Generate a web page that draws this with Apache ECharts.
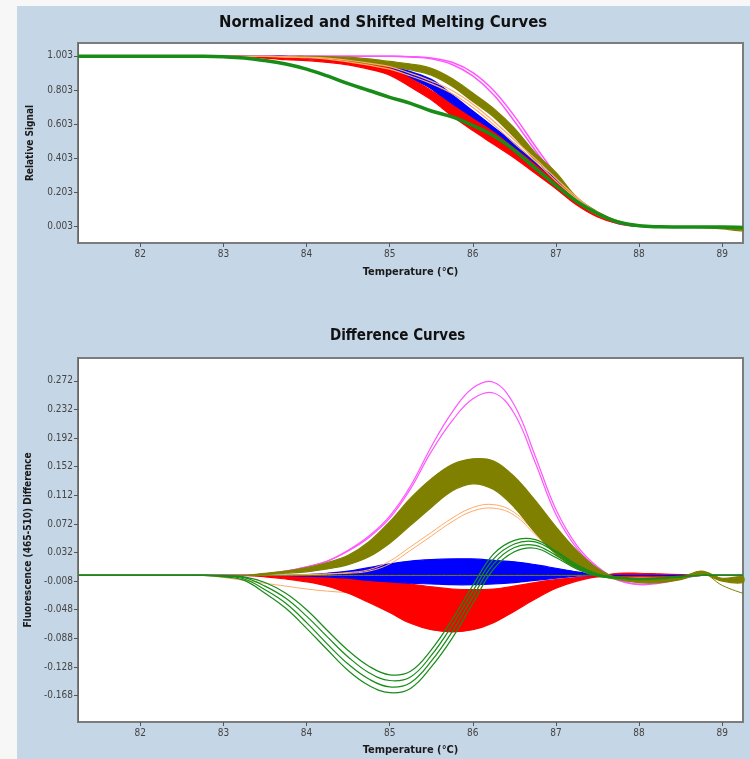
<!DOCTYPE html>
<html>
<head>
<meta charset="utf-8">
<script src="https://cdn.jsdelivr.net/npm/echarts@6/dist/echarts.min.js"></script>
<style>
html, body { margin: 0; padding: 0; background: #f7f7f7; }
#bg { position: absolute; left: 17px; top: 6px; width: 733px; height: 753px; background: #c5d6e6; }
#chart { position: absolute; left: 0; top: 0; width: 750px; height: 759px; }
</style>
</head>
<body>
<div id="bg"></div>
<div id="chart"></div>
<script>
// temperature grid (°C)
var temps = [81.25, 81.5, 81.75, 82, 82.25, 82.5, 82.75, 83, 83.25, 83.5, 83.75, 84, 84.25, 84.5, 84.75, 85, 85.25,
  85.5, 85.75, 86, 86.25, 86.5, 86.75, 87, 87.25, 87.5, 87.75, 88, 88.25, 88.5, 88.75, 89, 89.25];
var xTicks = [82, 83, 84, 85, 86, 87, 88, 89];
var meltTicks = [0.003, 0.203, 0.403, 0.603, 0.803, 1.003];
var diffTicks = [-0.168, -0.128, -0.088, -0.048, -0.008, 0.032, 0.072, 0.112, 0.152, 0.192, 0.232, 0.272];

// normalized melting curves (upper chart)
var meltGreen = [1, 1, 1, 1, 1, 1, 1, 0.997, 0.99, 0.975, 0.955, 0.925, 0.885, 0.84, 0.8, 0.76, 0.725, 0.68, 0.645, 0.595, 0.535, 0.45, 0.345, 0.245, 0.15, 0.08, 0.03, 0.008, 0.002, 0.001, 0, 0, -0.002];
var meltRedHi = [1, 1, 1, 1, 1, 1, 1, 1, 1, 0.995, 0.99, 0.985, 0.98, 0.97, 0.955, 0.93, 0.87, 0.8, 0.715, 0.635, 0.555, 0.46, 0.365, 0.265, 0.16, 0.08, 0.03, 0.008, 0.003, 0, 0, 0, 0];
var meltRedLo = [1, 1, 1, 1, 1, 1, 1, 1, 1, 0.99, 0.98, 0.975, 0.965, 0.95, 0.925, 0.89, 0.82, 0.745, 0.65, 0.565, 0.485, 0.405, 0.315, 0.225, 0.13, 0.06, 0.02, 0.005, 0.001, 0, 0, 0, 0];
var meltBlueHi = [1, 1, 1, 1, 1, 1, 1, 1, 1, 1, 1, 0.995, 0.99, 0.98, 0.965, 0.945, 0.91, 0.865, 0.775, 0.68, 0.585, 0.49, 0.38, 0.28, 0.17, 0.085, 0.03, 0.008, 0.002, 0, 0, 0, 0];
var meltBlueLo = [1, 1, 1, 1, 1, 1, 1, 1, 1, 1, 1, 0.99, 0.98, 0.965, 0.945, 0.915, 0.87, 0.81, 0.705, 0.62, 0.525, 0.43, 0.33, 0.235, 0.14, 0.07, 0.025, 0.006, 0.001, 0, 0, 0, 0];
var meltOrangeA = [1, 1, 1, 1, 1, 1, 1, 1, 1, 1, 0.998, 0.995, 0.99, 0.977, 0.96, 0.94, 0.9, 0.855, 0.8, 0.72, 0.62, 0.51, 0.4, 0.285, 0.175, 0.085, 0.03, 0.008, 0.002, 0, 0, 0, 0];
var meltOrangeB = [1, 1, 1, 1, 1, 1, 1, 1, 1, 1, 0.997, 0.992, 0.984, 0.968, 0.948, 0.925, 0.885, 0.84, 0.782, 0.7, 0.6, 0.49, 0.385, 0.27, 0.165, 0.08, 0.028, 0.007, 0.002, 0, 0, 0, 0];
var meltOliveHi = [1, 1, 1, 1, 1, 1, 1, 1, 1, 1, 1, 1, 0.998, 0.995, 0.985, 0.97, 0.955, 0.93, 0.87, 0.785, 0.695, 0.58, 0.435, 0.32, 0.175, 0.09, 0.035, 0.01, 0.003, 0.001, 0, -0.004, -0.012];
var meltOliveLo = [1, 1, 1, 1, 1, 1, 1, 1, 1, 1, 1, 1, 0.99, 0.975, 0.955, 0.94, 0.92, 0.89, 0.825, 0.735, 0.645, 0.525, 0.395, 0.29, 0.15, 0.07, 0.025, 0.005, 0.001, 0, -0.003, -0.01, -0.022];
var meltMagentaA = [1, 1, 1, 1, 1, 1, 1, 1, 1, 1, 1, 1, 1, 1, 1, 1, 0.998, 0.99, 0.965, 0.905, 0.8, 0.65, 0.475, 0.31, 0.17, 0.075, 0.022, 0.006, 0.001, 0, 0, 0, 0];
var meltMagentaB = [1, 1, 1, 1, 1, 1, 1, 1, 1, 1, 1, 1, 1, 1, 1, 1, 0.996, 0.985, 0.952, 0.885, 0.775, 0.62, 0.45, 0.29, 0.155, 0.068, 0.02, 0.005, 0.001, 0, 0, 0, 0];

// difference curves (lower chart)
var diffMagentaA = [0, 0, 0, 0, 0, 0, 0, 0, 0, 0.002, 0.006, 0.012, 0.02, 0.035, 0.055, 0.083, 0.125, 0.18, 0.228, 0.262, 0.27, 0.238, 0.167, 0.092, 0.042, 0.012, -0.006, -0.012, -0.01, -0.004, 0, 0, 0];
var diffMagentaB = [0, 0, 0, 0, 0, 0, 0, 0, 0, 0.002, 0.006, 0.012, 0.02, 0.034, 0.053, 0.08, 0.121, 0.173, 0.216, 0.247, 0.255, 0.226, 0.158, 0.085, 0.038, 0.01, -0.007, -0.013, -0.011, -0.005, 0, 0, 0];
var diffOliveHi = [0, 0, 0, 0, 0, 0, 0, 0, 0, 0.003, 0.006, 0.011, 0.018, 0.028, 0.047, 0.075, 0.108, 0.135, 0.155, 0.163, 0.16, 0.138, 0.105, 0.068, 0.035, 0.01, -0.004, -0.006, -0.006, -0.003, 0.006, -0.004, -0.002];
var diffOliveLo = [0, 0, 0, 0, 0, 0, 0, 0, 0, 0.001, 0.003, 0.005, 0.009, 0.015, 0.026, 0.045, 0.07, 0.095, 0.118, 0.128, 0.12, 0.095, 0.06, 0.03, 0.01, 0, -0.006, -0.01, -0.01, -0.006, 0.002, -0.008, -0.01];
var diffOliveDip = [0, 0, 0, 0, 0, 0, 0, 0, 0, 0, 0, 0, 0, 0, 0, 0, 0, 0, 0, 0, 0, 0, 0, 0, 0, 0, -0.004, -0.006, -0.006, -0.003, 0.004, -0.014, -0.025];
var diffOrangeA = [0, 0, 0, 0, 0, 0, 0, 0, 0, 0, 0, 0.001, 0.002, 0.004, 0.008, 0.02, 0.04, 0.06, 0.08, 0.095, 0.099, 0.088, 0.06, 0.032, 0.01, 0, -0.004, -0.005, -0.004, -0.002, 0, 0, 0];
var diffOrangeB = [0, 0, 0, 0, 0, 0, 0, 0, 0, 0, 0, 0.001, 0.002, 0.003, 0.006, 0.016, 0.035, 0.055, 0.075, 0.09, 0.094, 0.084, 0.057, 0.03, 0.009, 0, -0.004, -0.005, -0.004, -0.002, 0, 0, 0];
var diffOrangeC = [0, 0, 0, 0, 0, 0, 0, -0.003, -0.007, -0.011, -0.015, -0.019, -0.022, -0.024, -0.025, -0.026, -0.027, -0.027, -0.026, -0.024, -0.02, -0.015, -0.01, -0.006, -0.003, -0.001, 0, 0, 0, 0, 0, 0, 0];
var diffBlueHi = [0, 0, 0, 0, 0, 0, 0, 0, 0, 0, 0, 0.001, 0.003, 0.006, 0.011, 0.016, 0.02, 0.022, 0.023, 0.023, 0.021, 0.019, 0.015, 0.01, 0.005, 0.001, 0, 0, 0, 0, 0, 0, 0];
var diffBlueLo = [0, 0, 0, 0, 0, 0, 0, 0, 0, 0, 0, -0.001, -0.002, -0.004, -0.007, -0.009, -0.011, -0.012, -0.013, -0.013, -0.012, -0.01, -0.007, -0.004, -0.001, 0, 0, 0, 0, 0, 0, 0, 0];
var diffRedHi = [0, 0, 0, 0, 0, 0, 0, 0, 0, 0, -0.001, -0.002, -0.003, -0.004, -0.006, -0.008, -0.012, -0.016, -0.019, -0.02, -0.019, -0.015, -0.01, -0.006, -0.003, -0.001, 0.003, 0.003, 0.002, 0.001, 0, 0, 0];
var diffRedLo = [0, 0, 0, 0, 0, 0, 0, 0, 0, -0.002, -0.005, -0.009, -0.015, -0.025, -0.038, -0.052, -0.067, -0.076, -0.079, -0.076, -0.066, -0.05, -0.033, -0.018, -0.008, -0.002, -0.002, -0.002, -0.002, -0.001, 0, 0, 0];
var diffGreenA = [0, 0, 0, 0, 0, 0, 0, 0, -0.002, -0.01, -0.025, -0.048, -0.077, -0.105, -0.127, -0.139, -0.134, -0.104, -0.062, -0.014, 0.03, 0.049, 0.05, 0.034, 0.015, 0.002, -0.002, -0.004, -0.003, -0.001, 0, 0, 0];
var diffGreenB = [0, 0, 0, 0, 0, 0, 0, -0.001, -0.003, -0.015, -0.032, -0.057, -0.086, -0.114, -0.136, -0.147, -0.142, -0.112, -0.07, -0.022, 0.023, 0.044, 0.047, 0.032, 0.013, 0.001, -0.003, -0.005, -0.004, -0.002, 0, 0, 0];
var diffGreenC = [0, 0, 0, 0, 0, 0, 0, -0.001, -0.005, -0.02, -0.039, -0.066, -0.096, -0.124, -0.145, -0.156, -0.15, -0.12, -0.079, -0.03, 0.016, 0.039, 0.042, 0.028, 0.011, 0, -0.003, -0.005, -0.004, -0.002, 0, 0, 0];
var diffGreenD = [0, 0, 0, 0, 0, 0, 0, -0.002, -0.007, -0.025, -0.046, -0.074, -0.104, -0.133, -0.154, -0.164, -0.158, -0.128, -0.088, -0.039, 0.009, 0.033, 0.038, 0.025, 0.009, -0.001, -0.004, -0.006, -0.005, -0.002, 0, 0, 0];

var FONT = '"DejaVu Sans Condensed", "DejaVu Sans", sans-serif';
var RED = '#ff0000', BLUE = '#0000ff', OLIVE = '#808000', ORANGE = '#ffaa66', MAGENTA = '#ff55ff', GREEN = '#178c17';

// one smooth curve, drawn through the grid's own axes
function curve(g, ys, color, width) {
  return {
    type: 'custom', coordinateSystem: 'cartesian2d', xAxisIndex: g, yAxisIndex: g,
    silent: true, data: [[temps[0], ys[0]]],
    renderItem: function (params, api) {
      var pts = temps.map(function (t, i) { return api.coord([t, ys[i]]); });
      return {
        type: 'polyline',
        shape: { points: pts, smooth: 0.4 },
        style: { stroke: color, lineWidth: width, fill: null }
      };
    }
  };
}

// filled band of many overlapping curves, between lo and hi
function band(g, lo, hi, color) {
  return {
    type: 'custom', coordinateSystem: 'cartesian2d', xAxisIndex: g, yAxisIndex: g,
    silent: true, data: [[temps[0], lo[0]]],
    renderItem: function (params, api) {
      var pts = [];
      for (var i = 0; i < temps.length; i++) pts.push(api.coord([temps[i], hi[i]]));
      for (var j = temps.length - 1; j >= 0; j--) pts.push(api.coord([temps[j], lo[j]]));
      return {
        type: 'polygon',
        shape: { points: pts, smooth: 0.35 },
        style: { fill: color, stroke: color, lineWidth: 1.2 }
      };
    }
  };
}

function xAxis(g, gap) {
  return {
    type: 'value', gridIndex: g, min: 81.25, max: 89.25,
    axisLine: { show: false, onZero: false },
    axisTick: { show: true, customValues: xTicks, length: 4, lineStyle: { color: '#555' } },
    axisLabel: { customValues: xTicks, fontFamily: FONT, fontSize: 10, color: '#444', margin: 6 },
    splitLine: { show: false },
    name: 'Temperature (°C)', nameLocation: 'middle', nameGap: gap,
    nameTextStyle: { fontFamily: FONT, fontWeight: 'bold', fontSize: 11, color: '#1a1a1a' }
  };
}

function yAxis(g, min, max, ticks, name) {
  return {
    type: 'value', gridIndex: g, min: min, max: max,
    axisLine: { show: true, onZero: false, lineStyle: { color: '#666', width: 1 } },
    axisTick: { show: true, customValues: ticks, length: 4, lineStyle: { color: '#555' } },
    axisLabel: {
      customValues: ticks, fontFamily: FONT, fontSize: 10, color: '#444', margin: 5,
      formatter: function (v) { return v.toFixed(3); }
    },
    splitLine: { show: false },
    name: name, nameLocation: 'middle', nameGap: 43,
    nameTextStyle: { fontFamily: FONT, fontWeight: 'bold', fontSize: 10, color: '#1a1a1a' }
  };
}

var chart = echarts.init(document.getElementById('chart'));
chart.setOption({
  animation: false,
  backgroundColor: 'transparent',
  title: [
    { text: 'Normalized and Shifted Melting Curves', left: 219, top: 14, padding: 0,
      textStyle: { fontFamily: FONT, fontWeight: 'bold', fontSize: 16.5, color: '#111' } },
    { text: 'Difference Curves', left: 330, top: 329, padding: 0,
      textStyle: { fontFamily: FONT, fontWeight: 'bold', fontSize: 15, color: '#111' } }
  ],
  grid: [
    { left: 78, top: 43, width: 665, height: 200, show: true, backgroundColor: '#fff', borderColor: '#7c7c7c', borderWidth: 2 },
    { left: 78, top: 358, width: 665, height: 364, show: true, backgroundColor: '#fff', borderColor: '#7c7c7c', borderWidth: 2 }
  ],
  xAxis: [xAxis(0, 24), xAxis(1, 23)],
  yAxis: [
    yAxis(0, -0.093, 1.078, meltTicks, 'Relative Signal'),
    yAxis(1, -0.205, 0.304, diffTicks, 'Fluorescence (465-510) Difference')
  ],
  series: [
    // upper chart
    curve(0, meltMagentaA, MAGENTA, 1.5),
    curve(0, meltMagentaB, MAGENTA, 1.5),
    band(0, meltBlueLo, meltBlueHi, BLUE),
    band(0, meltRedLo, meltRedHi, RED),
    band(0, meltOliveLo, meltOliveHi, OLIVE),
    curve(0, meltOrangeA, ORANGE, 1.2),
    curve(0, meltOrangeB, ORANGE, 1.2),
    curve(0, meltGreen, GREEN, 3.5),
    // lower chart
    curve(1, diffOrangeC, ORANGE, 1),
    band(1, diffRedLo, diffRedHi, RED),
    band(1, diffBlueLo, diffBlueHi, BLUE),
    curve(1, diffOrangeA, ORANGE, 1),
    curve(1, diffOrangeB, ORANGE, 1),
    curve(1, diffMagentaA, MAGENTA, 1.2),
    curve(1, diffMagentaB, MAGENTA, 1.2),
    band(1, diffOliveLo, diffOliveHi, OLIVE),
    curve(1, diffOliveDip, OLIVE, 1),
    curve(1, diffGreenA, GREEN, 1.2),
    curve(1, diffGreenB, GREEN, 1.2),
    curve(1, diffGreenC, GREEN, 1.2),
    curve(1, diffGreenD, GREEN, 1.2)
  ]
});
</script>
</body>
</html>
